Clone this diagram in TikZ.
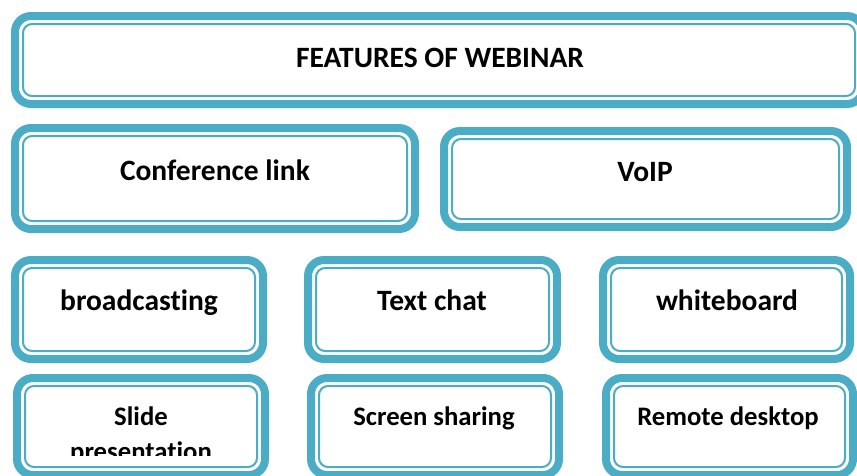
\documentclass[tikz,border=0pt]{standalone}
\usepackage{fontspec}
\setmainfont{Carlito}[Ligatures={NoCommon,NoContextual},Contextuals=NoAlternate]
\definecolor{aqua}{HTML}{4BACC6}
\tikzset{
  boxouter/.style={draw=aqua, line width=8pt, rounded corners=16pt, rectangle, inner sep=0pt, outer sep=0pt, fill=white},
  boxinner/.style={draw=aqua, line width=2pt, rounded corners=9pt},
  lbl/.style={font=\bfseries\fontsize{29.5}{34}\selectfont, text=black, inner sep=0pt, anchor=base},
  lblsmall/.style={font=\bfseries\fontsize{26.7}{35}\selectfont, text=black, inner sep=0pt, anchor=base},
}
\newcommand\wbox[5]{%
  \node[boxouter, minimum width={#4-#2-8}, minimum height={#5-#3-8}] (#1) at ({(#2+#4)/2},{(#3+#5)/2}) {};
  \draw[boxinner] ([xshift=8pt,yshift=8pt]#1.south west) rectangle ([xshift=-8pt,yshift=-8pt]#1.north east);
}
\begin{document}
\begin{tikzpicture}[x=1pt,y=-1pt]
\useasboundingbox (0,0) rectangle (857,475);
\clip (0,0) rectangle (857,475);
\wbox{title}{11}{12}{867}{108}
\wbox{conf}{11}{124}{419}{233}
\wbox{voip}{440}{127}{851}{231}
\wbox{broad}{11}{256}{267}{363}
\wbox{chat}{304}{256}{561}{363}
\wbox{white}{599}{256}{854}{363}
\wbox{slide}{13}{374}{269}{479}
\wbox{screen}{307}{374}{563}{479}
\wbox{remote}{602}{374}{857}{479}
\node[lbl] (ttitle) at (440,67) {FEATURES OF WEBINAR};
\node[lbl] (tconf) at (215,180) {Conference link};
\node[lbl] (tvoip) at (645,181) {VoIP};
\node[lbl] (tbroad) at (139,310) {broadcasting};
\node[lbl] (tchat) at (432,310) {Text chat};
\node[lbl] (twhite) at (727,310) {whiteboard};
\begin{scope}
\clip (13,374) rectangle (269,455);
\node[lblsmall] (tslide) at (141,425) {Slide};
\node[lblsmall] (tpres) at (141,460) {presentation};
\end{scope}
\node[lblsmall] (tscreen) at (434,425) {Screen sharing};
\node[lblsmall] (tremote) at (728,425) {Remote desktop};
\end{tikzpicture}
\end{document}
